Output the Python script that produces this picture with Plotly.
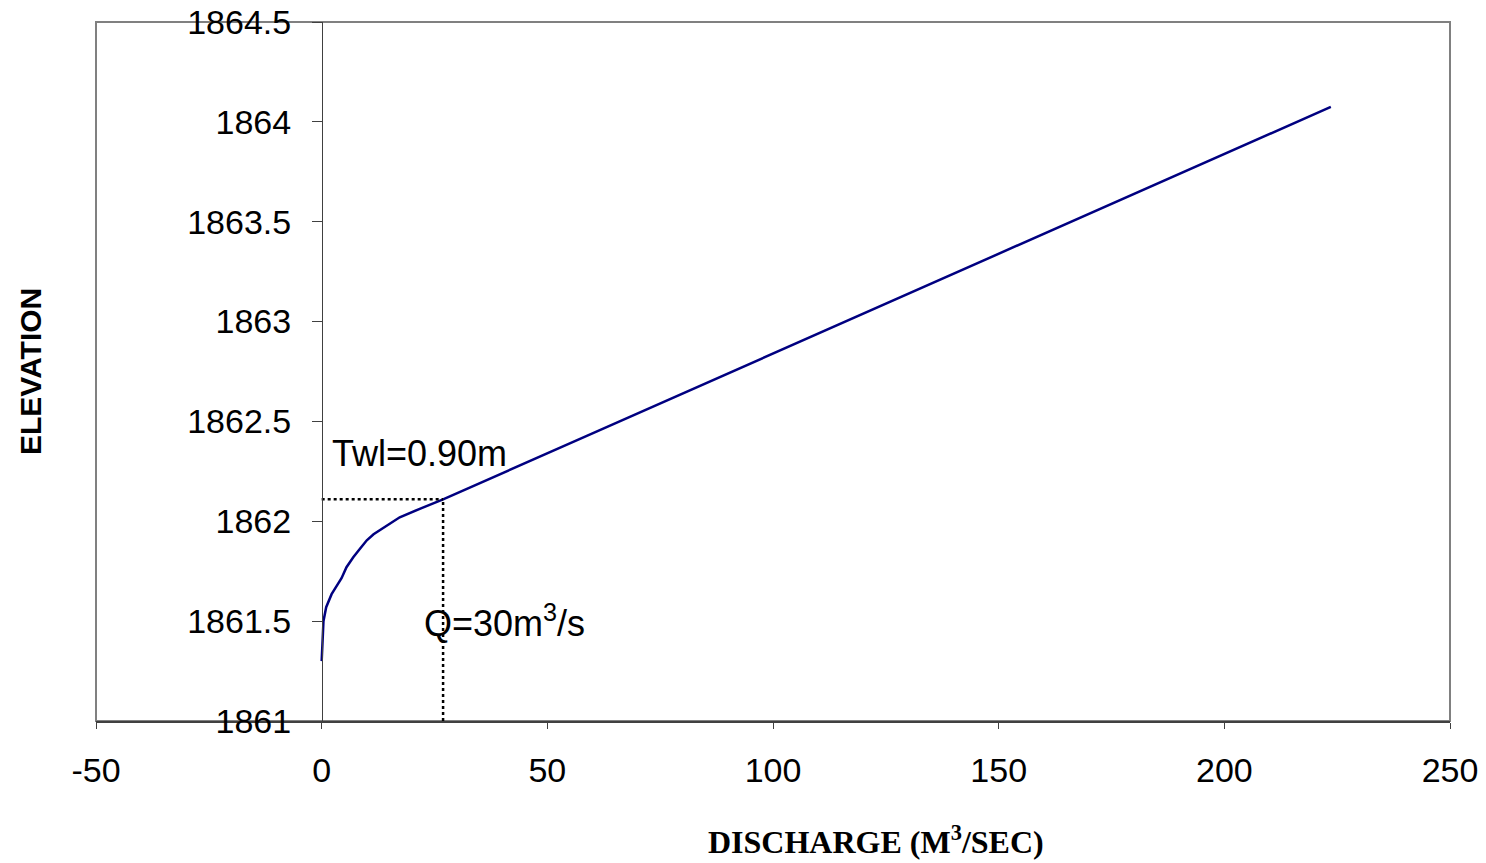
import plotly.graph_objects as go

# Rating curve (discharge m3/s vs elevation)
discharge = [0, 0.15, 0.4, 1.0, 2.2, 3.3, 4.4, 5.5, 7.0, 8.4, 10.0, 11.5, 13.0, 15.0, 17.3, 22.0, 26.9,
             60.0, 100.0, 150.0, 200.0, 223.6]
elevation = [1861.30, 1861.42, 1861.50, 1861.57, 1861.635, 1861.675, 1861.715, 1861.77, 1861.82, 1861.86,
             1861.905, 1861.935, 1861.958, 1861.985, 1862.02, 1862.065, 1862.11,
             1862.44, 1862.84, 1863.34, 1863.84, 1864.075]

# Design point
q_point = 26.9
twl_point = 1862.11

x_ticks = [-50, 0, 50, 100, 150, 200, 250]
y_ticks = [1861, 1861.5, 1862, 1862.5, 1863, 1863.5, 1864, 1864.5]
y_labels = ["1861", "1861.5", "1862", "1862.5", "1863", "1863.5", "1864", "1864.5"]

fig = go.Figure()
fig.add_trace(go.Scatter(x=discharge, y=elevation, mode="lines", line=dict(color="#000080", width=2.5),
                         showlegend=False, hoverinfo="x+y"))
fig.add_trace(go.Scatter(x=[0, q_point], y=[twl_point, twl_point], mode="lines",
                         line=dict(color="black", width=2.5, dash="dot"), showlegend=False))
fig.add_trace(go.Scatter(x=[q_point, q_point], y=[1861, twl_point], mode="lines",
                         line=dict(color="black", width=2.5, dash="dot"), showlegend=False))

font_ax = dict(family="Liberation Sans, Arial", size=34, color="black")

pw, ph = 1450 - 96, 721 - 22

fig.update_layout(
    width=1486, height=863,
    margin=dict(l=96, r=36, t=22, b=142),
    paper_bgcolor="white", plot_bgcolor="white",
    xaxis=dict(range=[-50, 250], tickvals=x_ticks, ticktext=[str(v) for v in x_ticks],
               showgrid=False, zeroline=False, showline=True, linecolor="#404040", linewidth=2,
               ticks="outside", ticklen=6, tickcolor="#404040", tickfont=font_ax, ticklabelstandoff=12,
               automargin=False),
    yaxis=dict(range=[1861, 1864.5], tickvals=y_ticks, ticktext=y_labels,
               showgrid=False, zeroline=False, showline=True, linecolor="#404040", linewidth=1,
               anchor="free", position=(322 - 96) / pw, side="left",
               ticks="outside", ticklen=10, tickcolor="#404040", tickfont=font_ax, ticklabelstandoff=14,
               automargin=False),
    shapes=[dict(type="rect", xref="paper", yref="paper", x0=0, x1=1, y0=0, y1=1,
                 line=dict(color="#808080", width=2), layer="below")],
    annotations=[
        dict(text="Twl=0.90m", x=1.8, y=1862.34, xref="x", yref="y", xanchor="left", yanchor="middle",
             showarrow=False, font=dict(family="Liberation Sans, Arial", size=36, color="black")),
        dict(text="Q=30m<sup>3</sup>/s", x=22.3, y=1861.5, xref="x", yref="y", xanchor="left", yanchor="middle",
             showarrow=False, font=dict(family="Liberation Sans, Arial", size=36, color="black")),
        dict(text="<b>DISCHARGE (M<sup>3</sup>/SEC)</b>", x=(876 - 96) / pw, y=(721 - 840) / ph,
             xref="paper", yref="paper", xanchor="center", yanchor="middle", showarrow=False,
             font=dict(family="Liberation Serif, Times New Roman", size=32, color="black")),
        dict(text="<b>ELEVATION</b>", x=(30 - 96) / pw, y=(721 - 372) / ph, xref="paper", yref="paper",
             xanchor="center", yanchor="middle", textangle=-90, showarrow=False,
             font=dict(family="Liberation Sans, Arial", size=30, color="black")),
    ],
)

fig.write_html("out.html")
